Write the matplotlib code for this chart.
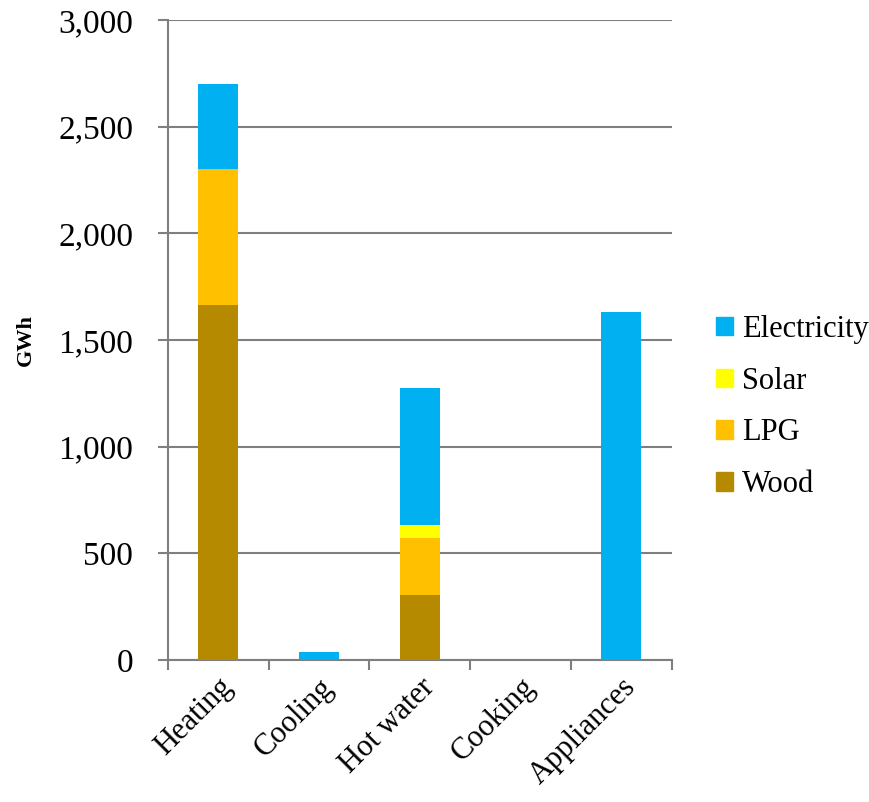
import matplotlib
matplotlib.use("Agg")
import matplotlib.pyplot as plt
import numpy as np
from matplotlib.patches import Patch
from matplotlib.ticker import FuncFormatter

categories = ["Heating", "Cooling", "Hot water", "Cooking", "Appliances"]
wood = [1665, 0, 305, 0, 0]
lpg = [635, 0, 265, 0, 0]
solar = [0, 0, 65, 0, 0]
electricity = [400, 40, 640, 0, 1630]

colors = {
    "Wood": "#b58900",
    "LPG": "#ffc000",
    "Solar": "#ffff00",
    "Electricity": "#00b0f0",
}

plt.rcParams["font.family"] = ["Liberation Serif", "DejaVu Serif"]

fig = plt.figure(figsize=(8.7, 8.02), dpi=100)
ax = fig.add_axes([0.193, 0.177, 0.579, 0.798])

x = np.arange(len(categories))
bottom = np.zeros(len(categories))
for name, vals in [("Wood", wood), ("LPG", lpg), ("Solar", solar), ("Electricity", electricity)]:
    ax.bar(x, vals, width=0.4, bottom=bottom, color=colors[name], zorder=3)
    bottom += np.array(vals)

ax.set_xlim(-0.5, len(categories) - 0.5)
ax.set_ylim(0, 3000)
ax.set_yticks(np.arange(0, 3001, 500))
ax.yaxis.set_major_formatter(FuncFormatter(lambda v, p: f"{int(v):,}"))
ax.grid(axis="y", color="#7f7f7f", linewidth=1.5, zorder=0)

# category boundaries get the tick marks, labels sit under the bars
ax.set_xticks(np.arange(-0.5, len(categories), 1.0), minor=False)
ax.set_xticklabels([])
ax.set_xticks(x, minor=True)
ax.set_xticklabels(categories, minor=True, rotation=45, ha="right",
                   rotation_mode="anchor", fontsize=22)
ax.tick_params(axis="x", which="minor", length=0, pad=9)
ax.tick_params(axis="x", which="major", length=7, width=1.5, color="#7f7f7f", direction="out")
ax.tick_params(axis="y", length=7, width=1.5, color="#7f7f7f", labelsize=24, pad=18)

for side in ["top", "right"]:
    ax.spines[side].set_visible(False)
for side in ["left", "bottom"]:
    ax.spines[side].set_color("#7f7f7f")
    ax.spines[side].set_linewidth(1.5)

ax.set_ylabel("GWh", fontsize=16, fontweight="bold", labelpad=16)

handles = [Patch(color=colors[n]) for n in ["Electricity", "Solar", "LPG", "Wood"]]
fig.legend(handles, ["Electricity", "Solar", "LPG", "Wood"],
           loc="center left", bbox_to_anchor=(0.823, 0.4925), frameon=False,
           fontsize=22, handlelength=0.55, handleheight=0.55, handletextpad=0.3,
           labelspacing=0.75, borderaxespad=0, borderpad=0)

fig.savefig("out.png", dpi=100)
plt.close(fig)
